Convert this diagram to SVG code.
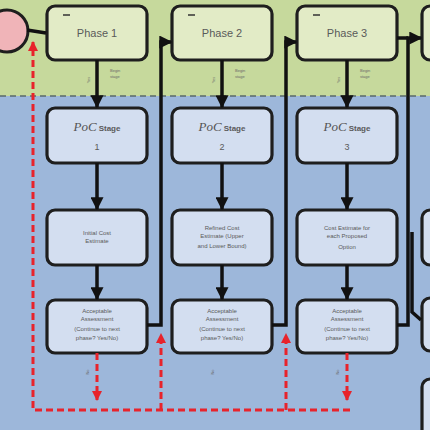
<svg xmlns="http://www.w3.org/2000/svg" width="430" height="430" viewBox="0 0 430 430">
<defs>
<style>
.box{stroke:#1e1e1e;stroke-width:3.2}
.ph{fill:#e2ebc6}
.st{fill:#d3def0}
.t{font-family:"Liberation Sans",Arial,sans-serif;fill:#5a5a5a;text-anchor:middle}
.big{font-size:11px}
.sm{font-size:6px}
.poc{font-family:"Liberation Serif",serif;font-style:italic;font-size:13px;fill:#555}
.tiny{font-family:"Liberation Sans",Arial,sans-serif;font-size:4px;fill:#6a6a6a}
.bl{fill:none;stroke:#111;stroke-width:3.5}
.rd{fill:none;stroke:#e8232b;stroke-width:3;stroke-dasharray:7 4}
</style>
<marker id="ab" viewBox="0 0 10 10" refX="9" refY="5" markerWidth="13" markerHeight="13" markerUnits="userSpaceOnUse" orient="auto"><path d="M0,0 L10,5 L0,10 z" fill="#111"/></marker>
<marker id="ar" viewBox="0 0 10 10" refX="9" refY="5" markerWidth="10" markerHeight="10" markerUnits="userSpaceOnUse" orient="auto"><path d="M0,0 L10,5 L0,10 z" fill="#e8232b"/></marker>
</defs>
<rect x="0" y="0" width="430" height="96" fill="#c6d99c"/>
<rect x="0" y="96" width="430" height="334" fill="#9db7da"/>
<line x1="0" y1="96" x2="430" y2="96" stroke="#5a6a6a" stroke-width="1.5" stroke-dasharray="6 4"/>

<g id="start"><circle cx="7" cy="31" r="21" fill="#f0b4b8" stroke="#1e1e1e" stroke-width="3"/></g>

<g id="phase1"><rect class="box ph" x="47" y="6" width="100" height="54" rx="8"/><line x1="63" y1="15" x2="70" y2="15" stroke="#333" stroke-width="1.5"/><text class="t big" x="97" y="37">Phase 1</text></g>
<g id="phase2"><rect class="box ph" x="172" y="6" width="100" height="54" rx="8"/><line x1="188" y1="15" x2="195" y2="15" stroke="#333" stroke-width="1.5"/><text class="t big" x="222" y="37">Phase 2</text></g>
<g id="phase3"><rect class="box ph" x="297" y="6" width="100" height="54" rx="8"/><line x1="313" y1="15" x2="320" y2="15" stroke="#333" stroke-width="1.5"/><text class="t big" x="347" y="37">Phase 3</text></g>
<g id="phase4"><rect class="box ph" x="422" y="6" width="100" height="54" rx="8"/></g>

<g id="stage1"><rect class="box st" x="47" y="108" width="100" height="55" rx="8"/><text x="97" y="131" text-anchor="middle"><tspan class="poc">PoC</tspan><tspan class="t" style="font-size:8px;font-weight:bold" dx="2">Stage</tspan></text><text class="t" style="font-size:9px" x="97" y="150">1</text></g>
<g id="stage2"><rect class="box st" x="172" y="108" width="100" height="55" rx="8"/><text x="222" y="131" text-anchor="middle"><tspan class="poc">PoC</tspan><tspan class="t" style="font-size:8px;font-weight:bold" dx="2">Stage</tspan></text><text class="t" style="font-size:9px" x="222" y="150">2</text></g>
<g id="stage3"><rect class="box st" x="297" y="108" width="100" height="55" rx="8"/><text x="347" y="131" text-anchor="middle"><tspan class="poc">PoC</tspan><tspan class="t" style="font-size:8px;font-weight:bold" dx="2">Stage</tspan></text><text class="t" style="font-size:9px" x="347" y="150">3</text></g>

<g id="est1"><rect class="box st" x="47" y="210" width="100" height="55" rx="8"/><text class="t sm" x="97" y="235">Initial Cost</text><text class="t sm" x="97" y="243">Estimate</text></g>
<g id="est2"><rect class="box st" x="172" y="210" width="100" height="55" rx="8"/><text class="t sm" x="222" y="230">Refined Cost</text><text class="t sm" x="222" y="238">Estimate (Upper</text><text class="t sm" x="222" y="248">and Lower Bound)</text></g>
<g id="est3"><rect class="box st" x="297" y="210" width="100" height="55" rx="8"/><text class="t sm" x="347" y="230">Cost Estimate for</text><text class="t sm" x="347" y="238">each Proposed</text><text class="t sm" x="347" y="249">Option</text></g>
<g id="est4"><rect class="box st" x="422" y="210" width="100" height="55" rx="8"/></g>

<g id="acc1"><rect class="box st" x="47" y="300" width="100" height="53" rx="8"/><text class="t sm" x="97" y="313">Acceptable</text><text class="t sm" x="97" y="321">Assessment</text><text class="t sm" x="97" y="331">(Continue to next</text><text class="t sm" x="97" y="340">phase? Yes/No)</text></g>
<g id="acc2"><rect class="box st" x="172" y="300" width="100" height="53" rx="8"/><text class="t sm" x="222" y="313">Acceptable</text><text class="t sm" x="222" y="321">Assessment</text><text class="t sm" x="222" y="331">(Continue to next</text><text class="t sm" x="222" y="340">phase? Yes/No)</text></g>
<g id="acc3"><rect class="box st" x="297" y="300" width="100" height="53" rx="8"/><text class="t sm" x="347" y="313">Acceptable</text><text class="t sm" x="347" y="321">Assessment</text><text class="t sm" x="347" y="331">(Continue to next</text><text class="t sm" x="347" y="340">phase? Yes/No)</text></g>
<g id="acc4"><rect class="box st" x="422" y="298" width="100" height="53" rx="8"/></g>
<g id="next4"><rect class="box st" x="422" y="379" width="100" height="60" rx="8"/></g>

<g id="connectors">
<path class="bl" d="M27,30 L46,33"/>
<path class="bl" d="M97,60 V107" marker-end="url(#ab)"/>
<path class="bl" d="M222,60 V107" marker-end="url(#ab)"/>
<path class="bl" d="M347,60 V107" marker-end="url(#ab)"/>
<path class="bl" d="M97,163 V209" marker-end="url(#ab)"/>
<path class="bl" d="M222,163 V209" marker-end="url(#ab)"/>
<path class="bl" d="M347,163 V209" marker-end="url(#ab)"/>
<path class="bl" d="M97,265 V299" marker-end="url(#ab)"/>
<path class="bl" d="M222,265 V299" marker-end="url(#ab)"/>
<path class="bl" d="M347,265 V299" marker-end="url(#ab)"/>
<path class="bl" d="M147,325 H161 V42 H171" marker-end="url(#ab)"/>
<path class="bl" d="M272,325 H286 V42 H296" marker-end="url(#ab)"/>
<path class="bl" d="M397,325 H408 V38 H421" marker-end="url(#ab)"/>
<path class="bl" d="M397,38 H408"/>
<path class="bl" d="M412,232 V312 L421,320"/>
<path class="rd" d="M97,353 V400" marker-end="url(#ar)"/>
<path class="rd" d="M347,353 V400" marker-end="url(#ar)"/>
<path class="rd" d="M350,410 H33 V42" marker-end="url(#ar)"/>
<path class="rd" d="M161,410 V334" marker-end="url(#ar)"/>
<path class="rd" d="M286,410 V334" marker-end="url(#ar)"/>
<text class="tiny" transform="translate(90,80) rotate(-90)" text-anchor="middle">Yes</text>
<text class="tiny" x="110" y="72">Begin</text><text class="tiny" x="110" y="78">stage</text>
<text class="tiny" transform="translate(215,80) rotate(-90)" text-anchor="middle">Yes</text>
<text class="tiny" x="235" y="72">Begin</text><text class="tiny" x="235" y="78">stage</text>
<text class="tiny" transform="translate(340,80) rotate(-90)" text-anchor="middle">Yes</text>
<text class="tiny" x="360" y="72">Begin</text><text class="tiny" x="360" y="78">stage</text>
<text class="tiny" transform="translate(89,372) rotate(-90)" text-anchor="middle">No</text>
<text class="tiny" transform="translate(214,372) rotate(-90)" text-anchor="middle">No</text>
<text class="tiny" transform="translate(339,372) rotate(-90)" text-anchor="middle">No</text>
</g>
</svg>
